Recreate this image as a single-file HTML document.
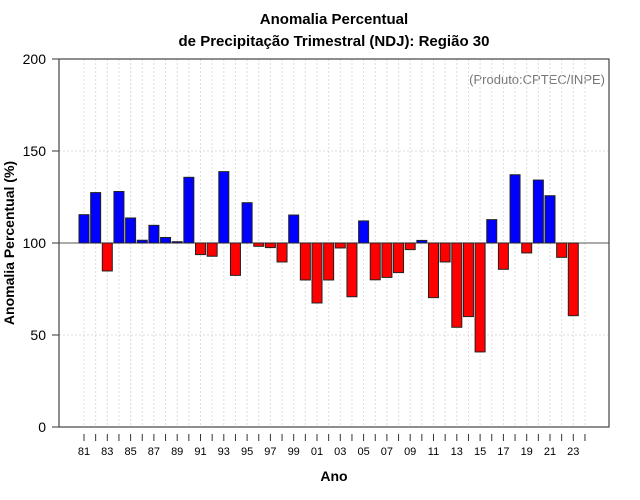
<!DOCTYPE html>
<html><head><meta charset="utf-8"><style>
body{margin:0;background:#fff;}
svg{display:block;font-family:"Liberation Sans",sans-serif;}
</style></head><body>
<svg id="chart" width="640" height="500">
<text x="334" y="24" text-anchor="middle" font-size="15" font-weight="bold">Anomalia Percentual</text>
<text x="334" y="46" text-anchor="middle" font-size="15" font-weight="bold">de Precipitação Trimestral (NDJ): Região 30</text>
<text x="605" y="84" text-anchor="end" font-size="13" fill="#777">(Produto:CPTEC/INPE)</text>
<text x="334" y="481" text-anchor="middle" font-size="14" font-weight="bold">Ano</text>
<text transform="translate(14,243) rotate(-90)" text-anchor="middle" font-size="14" font-weight="bold">Anomalia Percentual (%)</text>
<g id="grid"></g><g id="bars"></g><g id="axes"></g>
</svg>
<script>
const years = [1981,1982,1983,1984,1985,1986,1987,1988,1989,1990,1991,1992,1993,1994,1995,1996,1997,1998,1999,2000,2001,2002,2003,2004,2005,2006,2007,2008,2009,2010,2011,2012,2013,2014,2015,2016,2017,2018,2019,2020,2021,2022,2023];
const values = [115.4,127.4,84.8,128,113.6,101.5,109.6,103,100.7,135.7,93.7,92.8,138.8,82.4,121.9,98.2,97.5,89.7,115.2,79.9,67.4,79.9,97.3,70.8,112,80,81.3,83.9,96.4,101.4,70.3,89.7,54.2,60,40.8,112.7,85.7,137.1,94.6,134.2,125.7,92.2,60.5];
const yTicks = [0,50,100,150,200];
const xTickYears = [1981,1982,1983,1984,1985,1986,1987,1988,1989,1990,1991,1992,1993,1994,1995,1996,1997,1998,1999,2000,2001,2002,2003,2004,2005,2006,2007,2008,2009,2010,2011,2012,2013,2014,2015,2016,2017,2018,2019,2020,2021,2022,2023,2024];
const baseline = 100;

const L=59,R=609,T=59,B=427;
const NS="http://www.w3.org/2000/svg";
const y = v => B - (v/200)*(B-T);
const x = yr => 84 + (yr-1981)*11.65;
function mk(tag, attrs, parent){const e=document.createElementNS(NS,tag);for(const k in attrs)e.setAttribute(k,attrs[k]);parent.appendChild(e);return e;}
const grid=document.getElementById('grid'), bars=document.getElementById('bars'), axes=document.getElementById('axes');

xTickYears.forEach(yr=>{
  const l=mk('line',{x1:x(yr),x2:x(yr),y1:T,y2:B,stroke:'#ddd','stroke-dasharray':'2,2'},grid);
  
  
  const t=mk('line',{x1:x(yr),x2:x(yr),y1:B+7,y2:B+14,stroke:'#333'},axes);
  
  
  if((yr-1981)%2===0 && yr<=2023){
    const tx=mk('text',{x:x(yr),y:B+28,'text-anchor':'middle','font-size':11},axes);
    tx.textContent=String(yr%100).padStart(2,'0');
    
    
  }
});
yTicks.forEach(v=>{
  if(v>0&&v<200){
    const g=mk('line',{x1:L,x2:R,y1:y(v),y2:y(v),stroke:'#ddd','stroke-dasharray':'2,2'},grid);
    
    
  }
  const t=mk('line',{x1:L-7,x2:L,y1:y(v),y2:y(v),stroke:'#333'},axes);
  
  
  const tx=mk('text',{x:L-13,y:y(v)+5,'text-anchor':'end','font-size':14},axes);
  tx.textContent=v;
  
  
});
const bl=mk('line',{x1:L,x2:R,y1:y(baseline),y2:y(baseline),stroke:'#555'},grid);



years.forEach((yr,i)=>{
  const v=values[i];
  const top=Math.min(y(v),y(baseline)), h=Math.abs(y(v)-y(baseline));
  const r=mk('rect',{x:x(yr)-5,y:top,width:10,height:h,fill:v>=baseline?'#0000ff':'#ff0000',stroke:'#222','stroke-width':1},bars);
  
  
});
const box=mk('rect',{x:L,y:T,width:R-L,height:B-T,fill:'none',stroke:'#444','stroke-width':1.2},axes);


</script>
</body></html>
